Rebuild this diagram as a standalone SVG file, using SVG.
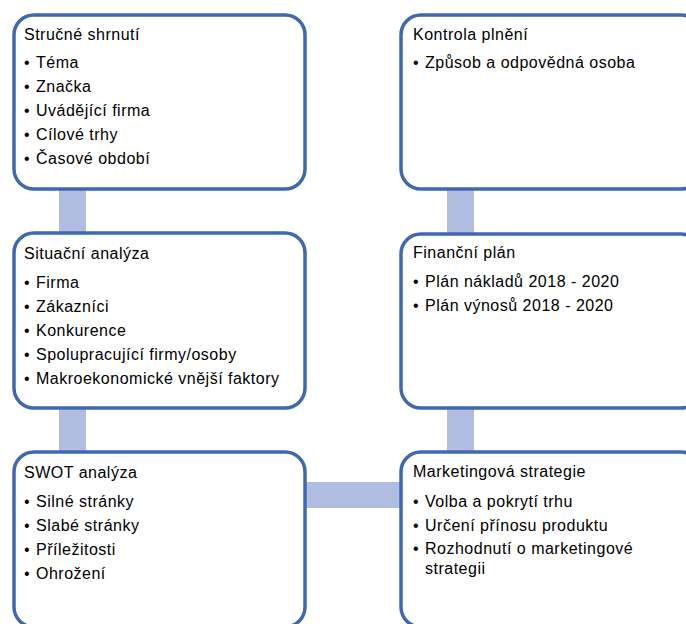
<svg xmlns="http://www.w3.org/2000/svg" width="686" height="624" viewBox="0 0 686 624">
<style>
.box{fill:#ffffff;stroke:#3f68b3;stroke-width:3.5}
.con{fill:#b0bce0}
text{font-family:"Liberation Sans",Arial,sans-serif;font-size:16px;letter-spacing:0.5px;fill:#000}
</style>
<rect x="0" y="0" width="686" height="624" fill="#ffffff"/>
<g id="connectors">
<rect class="con" x="59" y="185" width="27" height="52"/>
<rect class="con" x="59" y="404" width="27" height="52"/>
<rect class="con" x="300" y="482" width="106" height="26"/>
<rect class="con" x="447" y="185" width="27" height="52"/>
<rect class="con" x="447" y="404" width="27" height="52"/>
</g>
<g id="strucne-shrnuti">
<rect class="box" x="14" y="15" width="291" height="174" rx="20"/>
<text x="24" y="40">Stručné shrnutí</text>
<text x="24" y="68">•</text><text x="36" y="68">Téma</text>
<text x="24" y="92">•</text><text x="36" y="92">Značka</text>
<text x="24" y="116">•</text><text x="36" y="116">Uvádějící firma</text>
<text x="24" y="140">•</text><text x="36" y="140">Cílové trhy</text>
<text x="24" y="164">•</text><text x="36" y="164">Časové období</text>
</g>
<g id="situacni-analyza">
<rect class="box" x="14" y="233" width="291" height="175" rx="20"/>
<text x="24" y="259">Situační analýza</text>
<text x="24" y="288">•</text><text x="36" y="288">Firma</text>
<text x="24" y="312">•</text><text x="36" y="312">Zákazníci</text>
<text x="24" y="336">•</text><text x="36" y="336">Konkurence</text>
<text x="24" y="360">•</text><text x="36" y="360">Spolupracující firmy/osoby</text>
<text x="24" y="384">•</text><text x="36" y="384">Makroekonomické vnější faktory</text>
</g>
<g id="swot-analyza">
<rect class="box" x="14" y="452" width="291" height="175" rx="20"/>
<text x="24" y="478">SWOT analýza</text>
<text x="24" y="507">•</text><text x="36" y="507">Silné stránky</text>
<text x="24" y="531">•</text><text x="36" y="531">Slabé stránky</text>
<text x="24" y="555">•</text><text x="36" y="555">Příležitosti</text>
<text x="24" y="579">•</text><text x="36" y="579">Ohrožení</text>
</g>
<g id="kontrola-plneni">
<rect class="box" x="401" y="15" width="300" height="174" rx="20"/>
<text x="413" y="40">Kontrola plnění</text>
<text x="413" y="68">•</text><text x="425" y="68">Způsob a odpovědná osoba</text>
</g>
<g id="financni-plan">
<rect class="box" x="401" y="234" width="300" height="174" rx="20"/>
<text x="413" y="258">Finanční plán</text>
<text x="413" y="287">•</text><text x="425" y="287">Plán nákladů 2018 - 2020</text>
<text x="413" y="311">•</text><text x="425" y="311">Plán výnosů 2018 - 2020</text>
</g>
<g id="marketingova-strategie">
<rect class="box" x="401" y="452" width="300" height="175" rx="20"/>
<text x="413" y="477">Marketingová strategie</text>
<text x="413" y="507">•</text><text x="425" y="507">Volba a pokrytí trhu</text>
<text x="413" y="531">•</text><text x="425" y="531">Určení přínosu produktu</text>
<text x="413" y="554">•</text><text x="425" y="554">Rozhodnutí o marketingové</text>
<text x="425" y="574">strategii</text>
</g>
</svg>
